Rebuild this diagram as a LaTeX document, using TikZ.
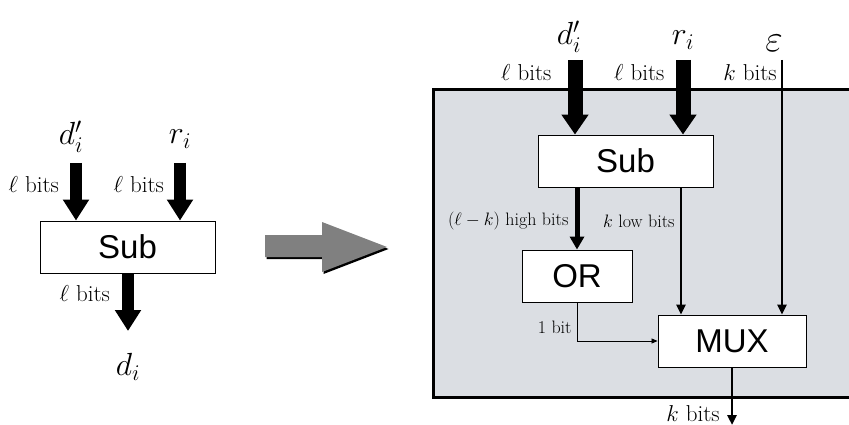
\RequirePackage{fix-cm}
\documentclass[tikz,border=0pt]{standalone}
\usepackage{fontspec}
\newfontfamily\helv{Liberation Sans}
\usetikzlibrary{arrows.meta,positioning}
\definecolor{panel}{RGB}{219,222,227}
\definecolor{bigarrow}{RGB}{128,128,128}
\newcommand{\fs}[1]{\fontsize{#1}{#1}\selectfont}

\begin{document}
\begin{tikzpicture}[x=1pt, y=-1pt,
  block/.style = {draw, fill=white, line width=0.9pt, minimum height=52pt, inner sep=0pt, font=\helv\fs{33}},
  var/.style = {font=\fs{32}, inner sep=0pt},
  lbl/.style = {font=\fs{23}, inner sep=2pt},
  small/.style = {font=\fs{18}, inner sep=2pt},
  fatL/.style = {line width=12pt, -{Triangle[width=25pt,length=21pt]}},
  fatR/.style = {line width=15pt, -{Triangle[width=26pt,length=20pt]}},
  med/.style = {line width=5pt, -{Triangle[width=14pt,length=13pt]}},
  wire/.style = {line width=2.6pt, -{Triangle[width=9pt,length=10pt]}},
  hair/.style = {line width=0.8pt, -{Triangle[width=5pt,length=6pt]}}]
\useasboundingbox (0,0) rectangle (849,425);

% left: single subtractor
\node[block, minimum width=175pt] (subL) at (127.5,247) {Sub};
\coordinate (inLa) at (76,163);
\coordinate (inLb) at (180,163);
\coordinate (outL) at (128,331);
\node[var, above=10pt of inLa, xshift=-5pt] (dpL) {$d'_i$};
\node[var, above=14pt of inLb] (rL) {$r_i$};
\node[var, below=22pt of outL] (dL) {$d_i$};
\draw[fatL] (inLa) -- node[lbl, pos=0.38, left=9pt] {$\ell$ bits} (inLa |- subL.north);
\draw[fatL] (inLb) -- node[lbl, pos=0.38, left=8pt] {$\ell$ bits} (inLb |- subL.north);
\draw[fatL] (outL |- subL.south) -- node[lbl, pos=0.35, left=10pt] {$\ell$ bits} (outL);

% big grey arrow
\foreach \dx/\dy/\col in {1.5/2/black, 0/0/bigarrow}
  \fill[\col, shift={(\dx,\dy)}] (265,235) -- (322,235) -- (322,222) -- (387,247)
    -- (322,272) -- (322,257) -- (265,257) -- cycle;

% right: subtractor with OR and MUX
\fill[panel] (433,90) rectangle (852,397);
\draw[line width=3pt] (852,90) -- (433,90) -- (433,397) -- (852,397);
\node[block, minimum width=175pt] (subR) at (625.5,161) {Sub};
\node[block, minimum width=110pt] (or) at (577,276) {OR};
\node[block, minimum width=148pt] (mux) at (732,341) {MUX};
\coordinate (inRa) at (575,60);
\coordinate (inRb) at (683,60);
\coordinate (inRc) at (782,60);
\coordinate (outR) at (732,425);
\node[var, above=7pt of inRa, xshift=-6pt] (dpR) {$d'_i$};
\node[var, above=10pt of inRb] (rR) {$r_i$};
\node[var, above=8pt of inRc, xshift=-8pt, font=\fs{38}] (eps) {$\varepsilon$};
\draw[fatR] (inRa) -- node[lbl, pos=0.17, left=14pt] {$\ell$ bits} (inRa |- subR.north);
\draw[fatR] (inRb) -- node[lbl, pos=0.17, left=9pt] {$\ell$ bits} (inRb |- subR.north);
\draw[wire] (inRc) -- node[lbl, pos=0.05, left=2pt] {$k$ bits} (inRc |- mux.north);
\draw[med] (or.north |- subR.south) -- node[small, pos=0.54, left=4pt] {$(\ell-k)$ high bits} (or.north);
\draw[wire] (681,0 |- subR.south) -- node[small, pos=0.27, left=3pt] {$k$ low bits} (681,0 |- mux.north);
\draw[hair] (or.south) |- node[small, pos=0.32, left=3pt] {1 bit} (mux.west);
\draw[wire] (mux.south) -- node[lbl, pos=0.8, left=9pt] {$k$ bits} (outR);
\end{tikzpicture}
\end{document}
